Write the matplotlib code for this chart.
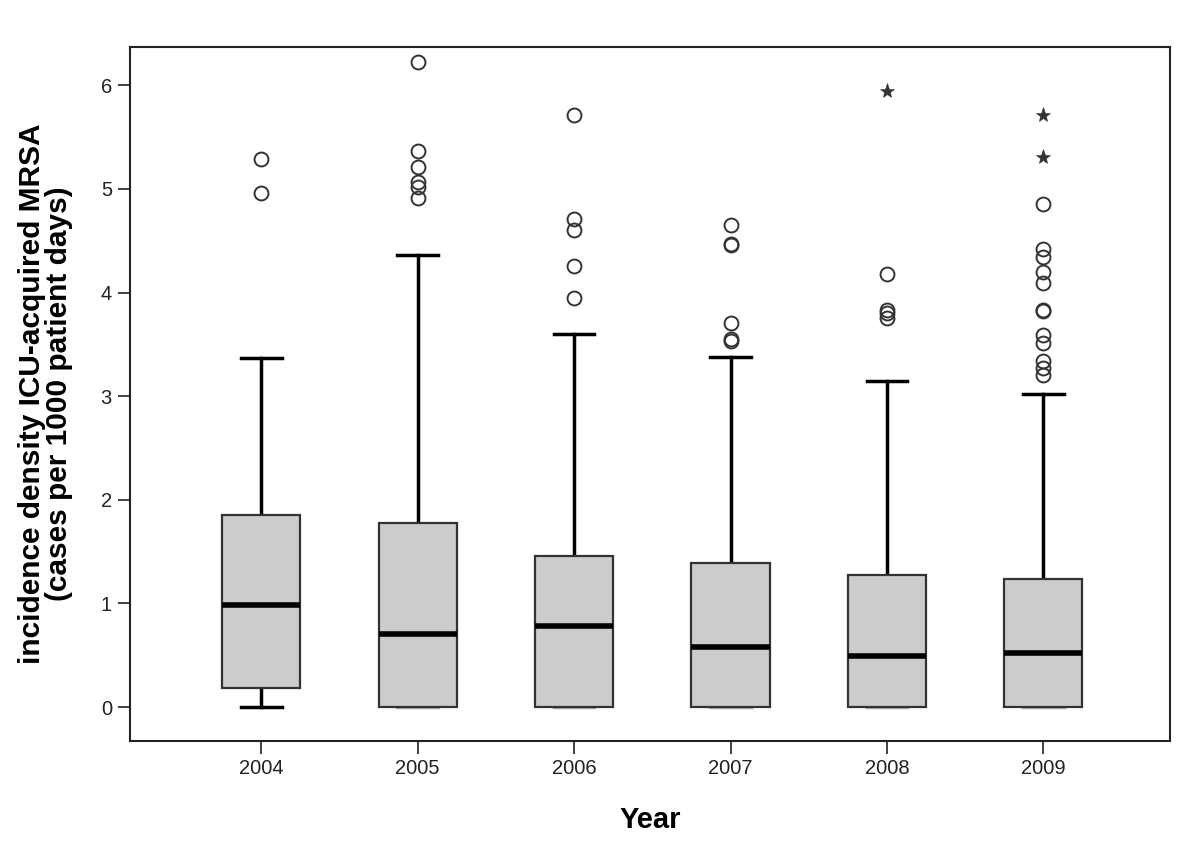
import matplotlib
matplotlib.use("Agg")
import matplotlib.pyplot as plt
import numpy as np

plt.rcParams['font.family'] = ['Liberation Sans', 'DejaVu Sans']

# values
years = ['2004', '2005', '2006', '2007', '2008', '2009']
q1 = [0.18, 0.0, 0.0, 0.0, 0.0, 0.0]
med = [0.98, 0.70, 0.78, 0.58, 0.49, 0.52]
q3 = [1.85, 1.78, 1.46, 1.39, 1.27, 1.24]
whislo = [0.0, 0.0, 0.0, 0.0, 0.0, 0.0]
whishi = [3.37, 4.36, 3.60, 3.38, 3.15, 3.02]

# outliers (circles)
out_2004 = [5.29, 4.96]
out_2005 = [6.23, 5.37, 5.21, 5.07, 5.02, 4.91]
out_2006 = [5.71, 4.71, 4.60, 4.26, 3.95]
out_2007 = [4.65, 4.47, 4.46, 3.71, 3.55, 3.53]
out_2008 = [4.18, 3.83, 3.80, 3.75]
out_2009 = [4.85, 4.42, 4.34, 4.20, 4.09, 3.83, 3.82, 3.59, 3.51, 3.34, 3.27, 3.20]
outliers = [out_2004, out_2005, out_2006, out_2007, out_2008, out_2009]

# extreme values (stars)
ext_years = ['2008', '2009', '2009']
ext_vals = [5.95, 5.71, 5.31]

stats = []
for i in range(len(years)):
    stats.append(dict(med=med[i], q1=q1[i], q3=q3[i], whislo=whislo[i],
                      whishi=whishi[i], fliers=outliers[i], label=years[i]))

fig = plt.figure(figsize=(12, 8.5), dpi=100)
ax = fig.add_axes([0.1083, 0.128, 0.8667, 0.8167])

pos = np.arange(len(years))
bp = ax.bxp(stats, positions=pos, widths=0.5, patch_artist=True,
            boxprops=dict(facecolor='#cccccc', edgecolor='#333333', linewidth=1.6, zorder=3),
            medianprops=dict(color='black', linewidth=4, zorder=4),
            whiskerprops=dict(color='black', linewidth=2.5),
            capprops=dict(color='black', linewidth=2.5),
            capwidths=0.26,
            flierprops=dict(marker='o', markersize=10, markerfacecolor='none',
                            markeredgecolor='#333333', markeredgewidth=1.4))

# lower caps that sit on the box edge are hidden behind it
for i in range(len(years)):
    if whislo[i] == q1[i]:
        bp['caps'][2 * i].set_color('#aaaaaa')
        bp['caps'][2 * i].set_zorder(1)

ext_pos = [years.index(y) for y in ext_years]
ax.plot(ext_pos, ext_vals, linestyle='none', marker='*', markersize=11,
        markerfacecolor='#333333', markeredgecolor='#333333', markeredgewidth=0.4)

ax.set_xlim(-0.84, 5.81)
ax.set_ylim(-0.33, 6.37)
ax.set_yticks([0, 1, 2, 3, 4, 5, 6])
ax.set_xticks(pos)
ax.set_xticklabels(years)
ax.tick_params(axis='both', labelsize=14.5, colors='#222222', length=9, width=1.2, pad=4)
for s in ax.spines.values():
    s.set_linewidth(1.5)
    s.set_color('#222222')

ax.set_xlabel('Year', fontsize=21, fontweight='bold', labelpad=20)
ax.set_ylabel('incidence density ICU-acquired MRSA\n(cases per 1000 patient days)',
              fontsize=21.5, fontweight='bold', labelpad=20, linespacing=0.95)

fig.savefig('out.png', dpi=100)
